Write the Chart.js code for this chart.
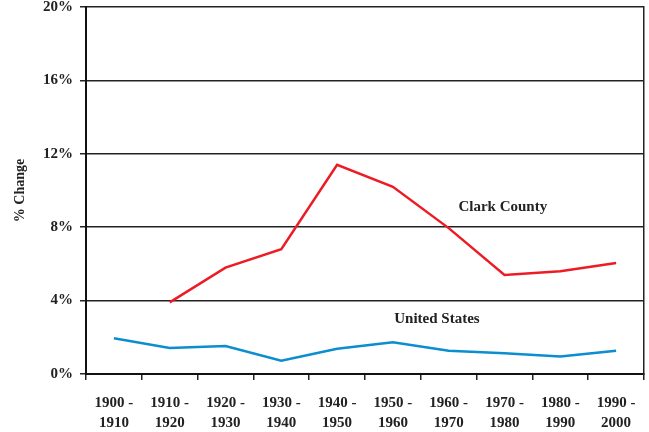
<!DOCTYPE html>
<html>
<head>
<meta charset="utf-8">
<script src="https://cdn.jsdelivr.net/npm/chart.js@4"></script>
<style>
  html, body { margin: 0; padding: 0; background: #fff; }
  #wrap { width: 649px; height: 432px; }
</style>
</head>
<body>
<div id="wrap"><canvas id="chart" width="649" height="432"></canvas></div>
<script>
// decades on the x axis (two-line labels)
const decades = [
  ['1900 -', '1910'], ['1910 -', '1920'], ['1920 -', '1930'], ['1930 -', '1940'],
  ['1940 -', '1950'], ['1950 -', '1960'], ['1960 -', '1970'], ['1970 -', '1980'],
  ['1980 -', '1990'], ['1990 -', '2000']
];

// percent change per decade
const clarkCounty = [null, 3.9, 5.8, 6.8, 11.4, 10.2, 7.95, 5.4, 5.6, 6.05];
const unitedStates = [1.95, 1.42, 1.52, 0.72, 1.38, 1.73, 1.27, 1.13, 0.95, 1.27];

const yTicks = [0, 4, 8, 12, 16, 20];

// series name labels, placed in data units (category index, percent)
const seriesLabels = [
  { text: 'Clark County', index: 6.97, value: 9.1 },
  { text: 'United States', index: 5.79, value: 3.0 }
];

const serif = "'Liberation Serif', 'Times New Roman', serif";

const seriesLabelPlugin = {
  id: 'seriesLabels',
  afterDatasetsDraw(chart) {
    const { ctx, scales } = chart;
    ctx.save();
    ctx.font = 'bold 15px ' + serif;
    ctx.fillStyle = '#222';
    ctx.textAlign = 'center';
    ctx.textBaseline = 'middle';
    seriesLabels.forEach(l => {
      ctx.fillText(l.text, scales.x.getPixelForValue(l.index), scales.y.getPixelForValue(l.value));
    });
    ctx.restore();
  }
};

new Chart(document.getElementById('chart').getContext('2d'), {
  type: 'line',
  data: {
    labels: decades,
    datasets: [
      {
        label: 'Clark County',
        data: clarkCounty,
        borderColor: '#ed1c24',
        borderWidth: 2.5,
        pointRadius: 0,
        tension: 0,
        spanGaps: false
      },
      {
        label: 'United States',
        data: unitedStates,
        borderColor: '#0b8ecf',
        borderWidth: 2.5,
        pointRadius: 0,
        tension: 0
      }
    ]
  },
  options: {
    responsive: false,
    animation: false,
    devicePixelRatio: 1,
    layout: { padding: { top: 7, right: 0, left: 0, bottom: 0 } },
    plugins: {
      legend: { display: false },
      tooltip: { enabled: false }
    },
    scales: {
      x: {
        offset: true,
        grid: {
          offset: true,
          drawOnChartArea: false,
          drawTicks: true,
          tickLength: 6,
          color: '#222',
          lineWidth: 1.5
        },
        border: { color: '#111', width: 2 },
        ticks: {
          color: '#222',
          font: { family: serif, size: 15, weight: 'bold', lineHeight: 1.33 },
          padding: 13,
          maxRotation: 0,
          autoSkip: false
        },
        afterFit(s) { s.height = 58; }
      },
      y: {
        min: 0,
        max: 20,
        afterBuildTicks(s) { s.ticks = yTicks.map(v => ({ value: v })); },
        grid: {
          color: '#222',
          lineWidth: 1.5,
          tickLength: 6
        },
        border: { color: '#111', width: 2 },
        ticks: {
          color: '#222',
          padding: 7,
          font: { family: serif, size: 15, weight: 'bold' },
          callback: v => v + '%'
        },
        title: {
          display: true,
          text: '% Change',
          color: '#222',
          font: { family: serif, size: 14, weight: 'bold' },
          padding: { top: 12, bottom: 0 }
        },
        afterFit(s) { s.width = 86; s.paddingTop = 0; s.paddingBottom = 0; }
      },
      yRight: {
        position: 'right',
        min: 0,
        max: 20,
        grid: { display: false },
        ticks: { display: false },
        border: { color: '#222', width: 1.5 },
        afterFit(s) { s.width = 5; s.paddingTop = 0; s.paddingBottom = 0; }
      }
    }
  },
  plugins: [seriesLabelPlugin]
});
</script>
</body>
</html>
